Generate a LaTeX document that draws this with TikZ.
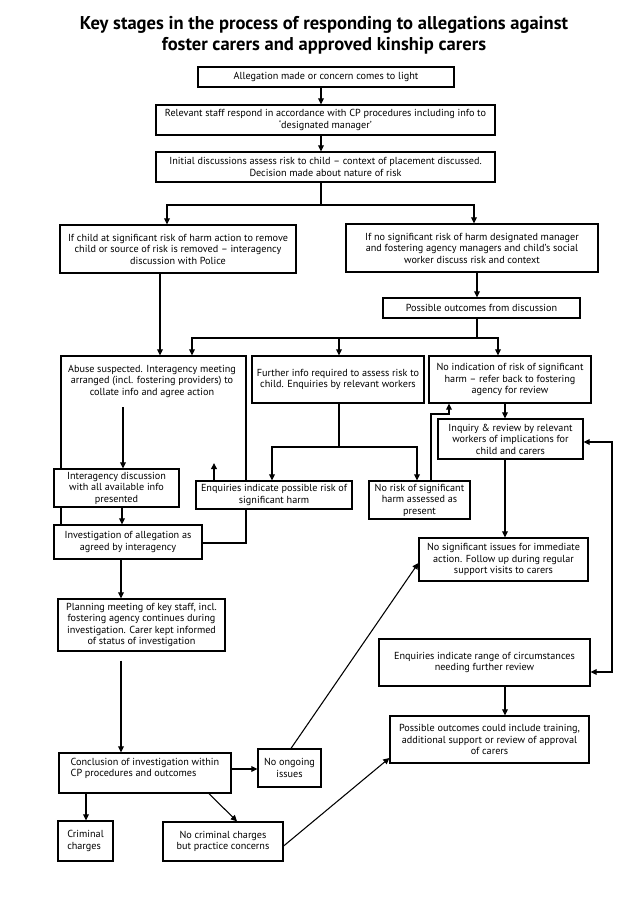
\documentclass[tikz,border=0pt]{standalone}
\usepackage{fontspec}
\setmainfont{PT Sans}
\usetikzlibrary{arrows.meta}
\tikzset{
  box/.style={draw, line width=0.9pt, fill=white, inner sep=1pt, align=center,
    font=\fontsize{7.65}{8.6}\selectfont},
  txt/.style={inner sep=0pt, align=center, font=\fontsize{7.65}{8.6}\selectfont},
  ln/.style={line width=0.8pt},
  arr/.style={line width=0.8pt, -{Triangle[length=4.6pt,width=4.4pt]}},
  arrtwo/.style={line width=0.8pt, {Triangle[length=4.6pt,width=4.4pt]}-{Triangle[length=4.6pt,width=4.4pt]}},
  ttl/.style={inner sep=0pt, align=center, font=\fontsize{13.9}{15.8}\selectfont\bfseries}
}
\newcommand{\bx}[7][]{\node[box, #1, minimum width={(#5-#3)*0.75pt}, minimum height={(#6-#4)*0.75pt}] (#2) at ({(#3+#5)/2},{(#4+#6)/2}) {#7};}
\begin{document}
\begin{tikzpicture}[x=0.75pt, y=-0.75pt]
\useasboundingbox (0,0) rectangle (642,908);
\node[ttl] (title) at (324,35) {Key stages in the process of responding to allegations against\\foster carers and approved kinship carers};

\bx{b1}{198}{67}{454}{87}{Allegation made or concern comes to light}
\bx{b2}{156}{105}{495}{135}{Relevant staff respond in accordance with CP procedures including info to\\`designated manager'}
\bx{b3}{156}{152}{495}{182}{Initial discussions assess risk to child -- context of placement discussed.\\Decision made about nature of risk}
\bx{b4}{60}{225}{296}{273}{If child at significant risk of harm action to remove\\child or source of risk is removed -- interagency\\discussion with Police}
\bx{b5}{346}{224}{598}{272}{If no significant risk of harm designated manager\\and fostering agency managers and child's social\\worker discuss risk and context}
\bx{b6}{383}{298}{580}{318}{Possible outcomes from discussion}

\bx{abuse}{61}{356}{246}{543}{}
\node[txt] (abusetxt) at (152,381) {Abuse suspected. Interagency meeting\\arranged (incl. fostering providers) to\\collate info and agree action};
\bx{further}{252}{356}{424}{403}{Further info required to assess risk to\\child. Enquiries by relevant workers}
\bx{noind}{429}{356}{591}{403}{No indication of risk of significant\\harm -- refer back to fostering\\agency for review}
\bx{inquiry}{438}{419}{583}{459}{Inquiry \& review by relevant\\workers of implications for\\child and carers}
\bx{interag}{54}{469}{179}{507}{Interagency discussion\\with all available info\\presented}
\bx{enqposs}{196}{481}{352}{509}{Enquiries indicate possible risk of\\significant harm}
\bx{norisk}{369}{481}{470}{519}{No risk of significant\\harm assessed as\\present}
\bx{invest}{54}{525}{202}{559}{Investigation of allegation as\\agreed by interagency}
\bx{nosig}{419}{538}{588}{581}{No significant issues for immediate\\action. Follow up during regular\\support visits to carers}
\bx{planning}{58}{599}{225}{651}{Planning meeting of key staff, incl.\\fostering agency continues during\\investigation. Carer kept informed\\of status of investigation}
\bx{range}{379}{639}{590}{686}{Enquiries indicate range of circumstances\\needing further review}
\bx{possout}{390}{716}{589}{763}{Possible outcomes could include training,\\additional support or review of approval\\of carers}
\bx[align=left]{concl}{59}{753}{231}{793}{Conclusion of investigation within\\CP procedures and outcomes\\\mbox{}}
\bx{noongo}{258}{749}{321}{787}{No ongoing\\issues}
\bx[align=left]{criminal}{58}{821}{113}{861}{Criminal\\charges}
\bx{nocrim}{163}{822}{283}{861}{No criminal charges\\but practice concerns}

% connectors
\draw[arr] (321,0 |- b1.south) -- (321,0 |- b2.north);
\draw[arr] (321,0 |- b2.south) -- (321,0 |- b3.north);
\coordinate (s1) at (321,205);
\draw[ln] (321,0 |- b3.south) -- (s1);
\draw[arr] (s1) -| (167,0 |- b4.north);
\draw[arr] (s1) -| (474,0 |- b5.north);
\draw[arr] (477,0 |- b5.south) -- (477,0 |- b6.north);
\draw[arr] (160,0 |- b4.south) -- (160,0 |- abuse.north);
\coordinate (s2) at (477,338);
\draw[ln] (477,0 |- b6.south) -- (s2);
\draw[arr] (s2) -| (192,0 |- abuse.north);
\draw[arr] (s2) -| (339,0 |- further.north);
\draw[arr] (s2) -| (498,0 |- noind.north);
\coordinate (a1) at (123,407);
\draw[arr] (a1) -- (123,0 |- interag.north);
\draw[arr] (122,0 |- interag.south) -- (122,0 |- invest.north);
\coordinate (s3) at (339,447);
\draw[ln] (339,0 |- further.south) -- (s3);
\draw[arr] (s3) -| (272,0 |- enqposs.north);
\draw[arr] (s3) -| (417,0 |- norisk.north);
\coordinate (up1) at (214,463);
\draw[arr] (214,0 |- enqposs.north) -- (up1);
\draw[arr] (431,0 |- norisk.north) |- (449,414) -- (449,0 |- noind.south);
\draw[arr] (505,0 |- noind.south) -- (505,0 |- inquiry.north);
\draw[arr] (505,0 |- inquiry.south) -- (505,0 |- nosig.north);
\draw[arrtwo] (range.east |- 0,672) -- (612,672) -- (612,442) -- (inquiry.east |- 0,442);
\draw[arr] (505,0 |- range.south) -- (505,0 |- possout.north);
\draw[arr] (121,0 |- invest.south) -- (121,0 |- planning.north);
\draw[arr, shorten <=6.75pt] (121,0 |- planning.south) -- (121,0 |- concl.north);
\draw[arr] (concl.east |- 0,769) -- (noongo.west |- 0,769);
\draw[arr] (86,0 |- concl.south) -- (86,0 |- criminal.north);
\draw[arr] (209,0 |- concl.south) -- (237,0 |- nocrim.north);
\draw[arr] (291,0 |- noongo.north) -- (nosig.west |- 0,563);
\draw[arr] (nocrim.east |- 0,846) -- (possout.west |- 0,758);
\end{tikzpicture}
\end{document}
